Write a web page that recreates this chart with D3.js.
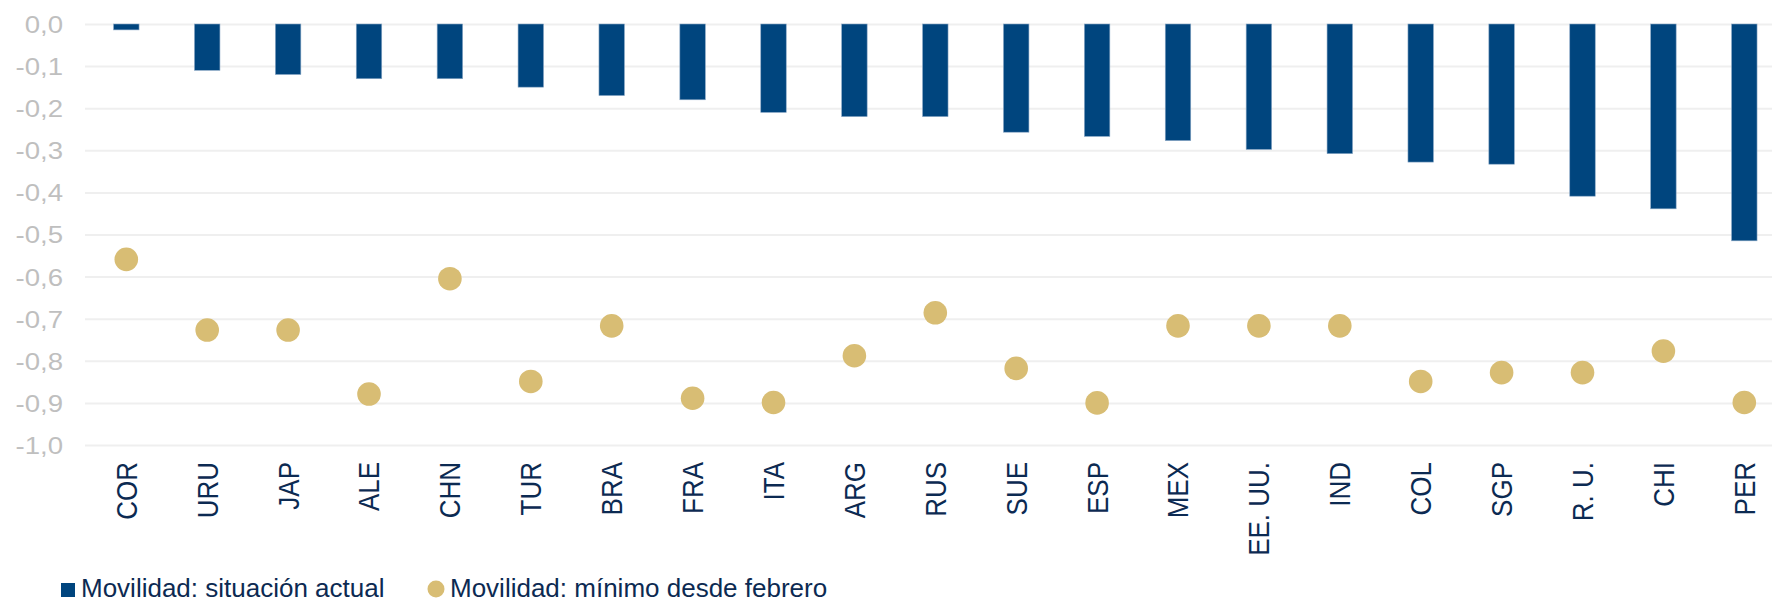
<!DOCTYPE html>
<html>
<head>
<meta charset="utf-8">
<script src="https://cdn.jsdelivr.net/npm/d3@7"></script>
<style>
  body { margin: 0; background: #fff; }
  svg text { font-family: "Liberation Sans", Arial, Helvetica, sans-serif; }
</style>
</head>
<body>
<div class="usable"></div>
<script>
// datos
const paises = ["COR", "URU", "JAP", "ALE", "CHN", "TUR", "BRA", "FRA", "ITA", "ARG", "RUS",
    "SUE", "ESP", "MEX", "EE. UU.", "IND", "COL", "SGP", "R. U.", "CHI", "PER"];
const actual = [-0.014, -0.11, -0.12, -0.13, -0.13, -0.15, -0.17, -0.18, -0.21, -0.22, -0.22,
    -0.257, -0.267, -0.277, -0.298, -0.308, -0.328, -0.333, -0.409, -0.439, -0.515];
const minimo = [-0.559, -0.727, -0.727, -0.879, -0.605, -0.849, -0.717, -0.889, -0.899, -0.788, -0.686,
    -0.818, -0.9, -0.717, -0.717, -0.717, -0.849, -0.828, -0.828, -0.777, -0.899];
const yTicks = [0, -0.1, -0.2, -0.3, -0.4, -0.5, -0.6, -0.7, -0.8, -0.9, -1.0];
const leyenda = ["Movilidad: situación actual", "Movilidad: mínimo desde febrero"];

const W = 1772, H = 603;
const azul = "#00457e", oro = "#d8bd74", texto = "#0c2a52";
const stretch = 1.15; // el original esta algo estirado en horizontal

let creador = d3.select(".usable").append("svg")
    .attr("width", W)
    .attr("height", H);

const x = d3.scaleBand()
    .domain(paises)
    .range([85.85, 1784.75])
    .paddingInner(0.685)
    .paddingOuter(0.3425);

const y = d3.scaleLinear()
    .domain([-1, 0])
    .range([445, 24]);

const fmt = v => d3.format(".1f")(v).replace(".", ",").replace("−", "-");

// lineas de la grilla
const yAxis = creador.append("g")
    .attr("transform", "translate(85,0)")
    .call(d3.axisLeft(y).tickValues(yTicks).tickSize(-(W - 85)).tickFormat(fmt));
yAxis.select(".domain").remove();
yAxis.selectAll(".tick line").attr("stroke", "#efefef").attr("stroke-width", 2);
yAxis.selectAll(".tick text")
    .attr("fill", "#bfbfbf")
    .attr("font-size", 24)
    .attr("x", 0)
    .attr("dy", "0.35em")
    .attr("text-anchor", "end")
    .attr("transform", `translate(-22,0) scale(${stretch},1)`);

// barras
creador.append("g").selectAll("rect")
    .data(paises)
    .join("rect")
    .attr("x", d => x(d))
    .attr("width", x.bandwidth())
    .attr("y", y(0))
    .attr("height", (d, i) => y(actual[i]) - y(0))
    .attr("fill", azul)
    .attr("stroke", "#8aa8c6")
    .attr("stroke-width", 0.6);

// puntos
creador.append("g").selectAll("circle")
    .data(paises)
    .join("circle")
    .attr("cx", d => x(d) + x.bandwidth() / 2)
    .attr("cy", (d, i) => y(minimo[i]))
    .attr("r", 11.8)
    .attr("fill", oro);

// etiquetas del eje x
const xAxis = creador.append("g")
    .attr("transform", "translate(0,462)")
    .call(d3.axisBottom(x).tickSize(0));
xAxis.select(".domain").remove();
xAxis.selectAll(".tick text")
    .attr("fill", texto)
    .attr("font-size", 26)
    .attr("x", 0)
    .attr("y", 0)
    .attr("dy", "0.35em")
    .attr("text-anchor", "end")
    .attr("transform", `scale(${stretch},1) rotate(-90)`);

// leyenda
const ley = creador.append("g");
ley.append("rect")
    .attr("x", 61).attr("y", 583)
    .attr("width", 14).attr("height", 14)
    .attr("fill", azul);
ley.append("text")
    .attr("x", 81).attr("y", 597)
    .attr("font-size", 26)
    .attr("fill", texto)
    .text(leyenda[0]);
ley.append("circle")
    .attr("cx", 436).attr("cy", 589)
    .attr("r", 8.5)
    .attr("fill", oro);
ley.append("text")
    .attr("x", 450).attr("y", 597)
    .attr("font-size", 26)
    .attr("fill", texto)
    .text(leyenda[1]);
</script>
</body>
</html>
